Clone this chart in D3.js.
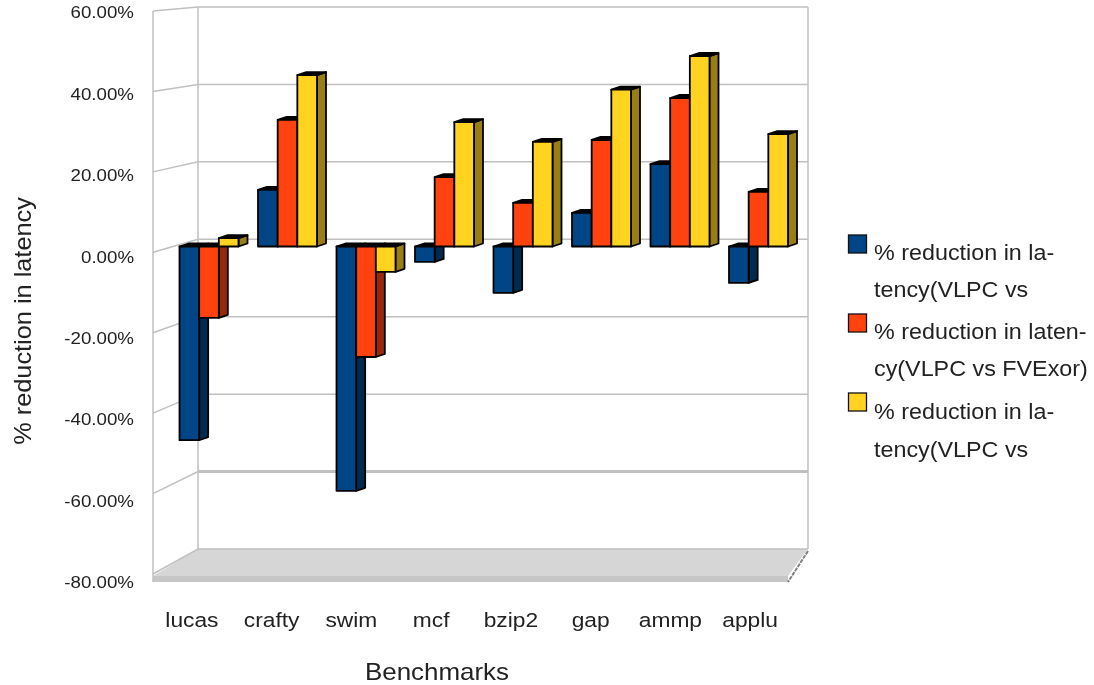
<!DOCTYPE html>
<html>
<head>
<meta charset="utf-8">
<script src="https://cdn.jsdelivr.net/npm/d3@7"></script>
<style>
  html, body { margin: 0; padding: 0; background: #fff; }
  svg { filter: blur(0.45px); }
  text { font-family: "Liberation Sans", Arial, sans-serif; fill: #222; }
  .axis path, .axis line { display: none; }
</style>
</head>
<body>
<div id="chart"></div>
<script>
// --- Data ---
const benchmarks = ["lucas", "crafty", "swim", "mcf", "bzip2", "gap", "ammp", "applu"];
const vsFirst = [-48.9, 14.3, -61.7, -3.9, -11.7, 8.5, 20.8, -9.2];
const vsFVExor = [-18, 32, -27.9, 17.5, 11, 26.9, 37.5, 13.8];
const vsLast = [2.1, 43.3, -6.4, 31.4, 26.4, 39.6, 48.1, 28.4];
const yTicks = [60, 40, 20, 0, -20, -40, -60, -80];
const legendLines = [
    ["% reduction in la-", "tency(VLPC vs"],
    ["% reduction in laten-", "cy(VLPC vs FVExor)"],
    ["% reduction in la-", "tency(VLPC vs"]
];
const faceColors = ["#004586", "#ff420e", "#ffd320"];
const sideColors = ["#002a50", "#992709", "#997e13"];

const series = [vsFirst, vsFVExor, vsLast];

const svg = d3.select("#chart").append("svg")
    .attr("width", 1094).attr("height", 685).style("display", "block");

// the reference glyphs are a bit wider than the plain font, so stretch them
function stretch(selection, k) {
    selection.each(function () {
        d3.select(this)
            .attr("textLength", this.getComputedTextLength() * k)
            .attr("lengthAdjust", "spacingAndGlyphs");
    });
}

// the chart is a fake 3D box: one y scale per depth plane
const domainY = [-80, 60];
const frontY = d3.scaleLinear().domain(domainY).range([574, 11]);
const backY = d3.scaleLinear().domain(domainY).range([549, 7]);
const barY = d3.scaleLinear().domain(domainY).range([563.3, 8.9]);
const labelY = d3.scaleLinear().domain(domainY).range([582, 12.5]);

const wall = { frontX: 153, backX: 198, rightX: 808, floorRightX: 788, floorFront: 576, floorBottom: 582 };
const x0 = d3.scaleBand().domain(benchmarks).range([160, 788]);
const x1 = d3.scaleBand().domain(d3.range(3)).range([19.5, 78.5]);
const depth = { dx: 9, dy: -3 };
const gridColor = "#c0c0c0";

// floor
svg.append("polygon")
    .attr("points", [[wall.backX, backY(-80)], [wall.rightX, backY(-80)], [wall.floorRightX, wall.floorFront], [wall.frontX, wall.floorFront]].join(" "))
    .attr("fill", "#d6d6d6");
svg.append("rect")
    .attr("x", wall.frontX).attr("y", wall.floorFront)
    .attr("width", wall.floorRightX - wall.frontX).attr("height", wall.floorBottom - wall.floorFront)
    .attr("fill", "#c6c6c6");
svg.append("line")
    .attr("x1", wall.rightX).attr("y1", backY(-80) + 2)
    .attr("x2", wall.floorRightX).attr("y2", wall.floorBottom)
    .attr("stroke", "#808080").attr("stroke-width", 2).attr("stroke-dasharray", "4 1");

// walls and grid
const grid = svg.append("g").attr("fill", "none").attr("stroke", gridColor).attr("stroke-width", 1.5);
grid.append("line").attr("x1", wall.frontX).attr("x2", wall.frontX).attr("y1", frontY(60)).attr("y2", wall.floorBottom);
grid.append("line").attr("x1", wall.backX).attr("x2", wall.backX).attr("y1", backY(60)).attr("y2", backY(-80));
grid.append("line").attr("x1", wall.rightX).attr("x2", wall.rightX).attr("y1", backY(60)).attr("y2", backY(-80));
grid.selectAll(".gridline").data(yTicks).join("path")
    .attr("class", "gridline")
    .attr("d", d => `M${wall.frontX},${frontY(d)}L${wall.backX},${backY(d)}L${wall.rightX},${backY(d)}`);
grid.append("line")
    .attr("x1", wall.backX).attr("x2", wall.rightX)
    .attr("y1", backY(-60)).attr("y2", backY(-60))
    .attr("stroke-width", 3);

// bars
series.forEach((values, s) => {
    const g = svg.append("g").attr("stroke", "#000").attr("stroke-width", 1.8).attr("stroke-linejoin", "round");
    values.forEach((v, i) => {
        const left = x0(benchmarks[i]) + x1(s);
        const right = left + x1.bandwidth();
        const top = barY(Math.max(v, 0));
        const bottom = barY(Math.min(v, 0));
        g.append("polygon")
            .attr("fill", sideColors[s])
            .attr("points", [[right, top], [right + depth.dx, top + depth.dy], [right + depth.dx, bottom + depth.dy], [right, bottom]].join(" "));
        g.append("polygon")
            .attr("fill", "#000")
            .attr("points", [[left, top], [left + depth.dx, top + depth.dy], [right + depth.dx, top + depth.dy], [right, top]].join(" "));
        g.append("rect")
            .attr("fill", faceColors[s])
            .attr("x", left).attr("y", top)
            .attr("width", x1.bandwidth()).attr("height", bottom - top);
    });
});

// axes
const yAxis = svg.append("g").attr("class", "axis")
    .attr("transform", "translate(134,0)")
    .call(d3.axisLeft(labelY).tickValues(yTicks).tickSize(0).tickPadding(0).tickFormat(d => d.toFixed(2) + "%"));
yAxis.selectAll("text").attr("font-size", 17).call(stretch, 1.1);

const xAxis = svg.append("g").attr("class", "axis")
    .attr("transform", "translate(0,612)")
    .call(d3.axisBottom(d3.scaleBand().domain(benchmarks).range([152, 790])).tickSize(0).tickPadding(0));
xAxis.selectAll("text").attr("font-size", 20.5).call(stretch, 1.11);

svg.append("text").attr("x", 437).attr("y", 680).attr("text-anchor", "middle")
    .attr("font-size", 24).text("Benchmarks").call(stretch, 1.08);
svg.append("text").attr("transform", "translate(31,321) rotate(-90)").attr("text-anchor", "middle")
    .attr("font-size", 24).text("% reduction in latency").call(stretch, 1.055);

// legend
const legendTop = [235, 314, 393];
const legendBase = [[260, 297], [339, 376], [419, 457]];
legendLines.forEach((lines, s) => {
    svg.append("rect").attr("x", 848.5).attr("y", legendTop[s]).attr("width", 18).attr("height", 18)
        .attr("fill", faceColors[s]).attr("stroke", "#111").attr("stroke-width", 1.3);
    lines.forEach((line, k) => {
        svg.append("text").attr("x", 874).attr("y", legendBase[s][k])
            .attr("font-size", 22).text(line).call(stretch, 1.06);
    });
});
</script>
</body>
</html>
